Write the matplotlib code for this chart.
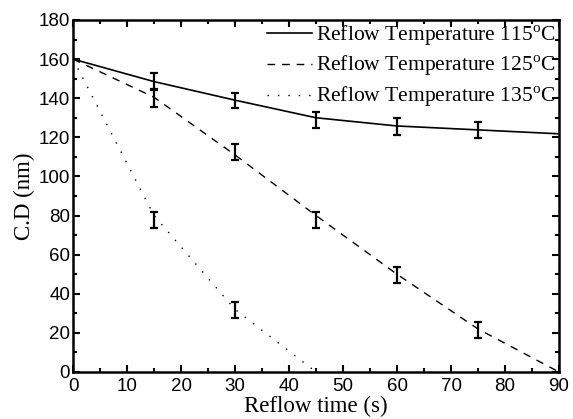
import numpy as np
import matplotlib
matplotlib.use("Agg")
import matplotlib.pyplot as plt
from matplotlib.ticker import MultipleLocator

# measured points (error bars)
t_pts = [15, 30, 45, 60, 75]
cd_115 = [148.5, 138.9, 129.0, 125.6, 123.7]
cd_125 = [140.0, 112.4, 77.9, 49.6, 21.5]
t_135 = [15, 30]
cd_135 = [77.6, 31.7]
err_115 = [4.5, 4.0, 4.0, 4.5, 4.0]
err_125 = [4.5, 4.0, 4.1, 4.3, 4.0]
err_135 = [4.0, 4.3]

# fitted curves
fit_t_115 = [0, 15, 30, 45, 60, 75, 90]
fit_115 = [160, 148.5, 139, 130, 125.8, 123.8, 121.8]
fit_t_125 = [0, 15, 30, 45, 60, 75, 90]
fit_125 = [160, 140.5, 111, 80, 50, 22, 0]
fit_t_135 = [0, 15, 30, 45]
fit_135 = [160, 80, 32, 0]

labels = [r"Reflow Temperature 115$^{\rm o}$C",
          r"Reflow Temperature 125$^{\rm o}$C",
          r"Reflow Temperature 135$^{\rm o}$C"]

plt.rcParams['mathtext.fontset'] = 'custom'
plt.rcParams['mathtext.rm'] = 'Liberation Serif'

fig = plt.figure(figsize=(5.73, 4.19), dpi=100)
ax = fig.add_axes([0.1274, 0.1122, 0.8482, 0.8401])

ax.plot(fit_t_115, fit_115, color='black', lw=1.2, label=labels[0])
ax.plot(fit_t_125, fit_125, color='black', lw=1.0, dashes=(5.5, 5), label=labels[1])
ax.plot(fit_t_135, fit_135, color='black', lw=1.0, dashes=(1, 6.5), label=labels[2])

ekw = dict(fmt='none', ecolor='black', elinewidth=1.6, capsize=3, capthick=1.6)
ax.errorbar(t_pts, cd_115, yerr=err_115, **ekw)
ax.errorbar(t_pts, cd_125, yerr=err_125, **ekw)
ax.errorbar(t_135, cd_135, yerr=err_135, **ekw)

ax.set_xlim(0, 90)
ax.set_ylim(0, 180)
ax.xaxis.set_major_locator(MultipleLocator(10))
ax.xaxis.set_minor_locator(MultipleLocator(5))
ax.yaxis.set_major_locator(MultipleLocator(20))
ax.yaxis.set_minor_locator(MultipleLocator(10))
ax.tick_params(which='both', direction='in', top=True, right=True, width=1.5)
ax.tick_params(which='major', length=5, labelsize=13.5, pad=2)
ax.tick_params(axis='x', which='major', pad=4)
ax.tick_params(which='minor', length=3)
for lab in ax.get_xticklabels() + ax.get_yticklabels():
    lab.set_fontfamily('Liberation Sans')
for sp in ax.spines.values():
    sp.set_linewidth(1.8)

ax.set_xlabel('Reflow time (s)', fontfamily='Liberation Serif', fontsize=16.5, labelpad=1)
ax.set_ylabel('C.D (nm)', fontfamily='Liberation Serif', fontsize=16.5, labelpad=3)

leg = ax.legend(loc='upper right', frameon=False, prop={'family': 'Liberation Serif', 'size': 15.5},
                handlelength=2.1, handletextpad=0.2, labelspacing=0.3,
                borderaxespad=0.05, borderpad=0.1)

fig.savefig('out.png', dpi=100)
